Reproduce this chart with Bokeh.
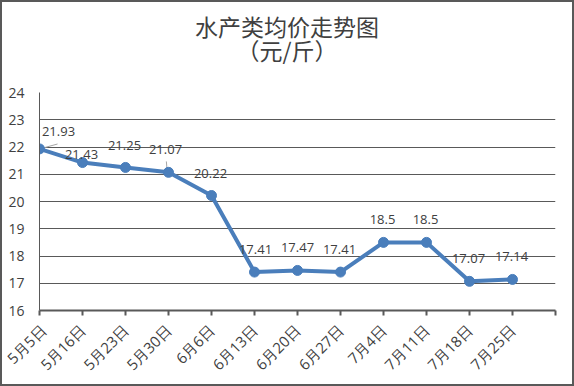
import math
from bokeh.plotting import figure
from bokeh.models import ColumnDataSource, LabelSet, Range1d, FixedTicker, Div
from bokeh.layouts import column
from bokeh.core.properties import value
from bokeh.embed import file_html
from bokeh.resources import INLINE

# ---- data ----
dates = ["5月5日", "5月16日", "5月23日", "5月30日", "6月6日", "6月13日",
         "6月20日", "6月27日", "7月4日", "7月11日", "7月18日", "7月25日"]
prices = [21.93, 21.43, 21.25, 21.07, 20.22, 17.41,
          17.47, 17.41, 18.5, 18.5, 17.07, 17.14]
y_ticks = [16, 17, 18, 19, 20, 21, 22, 23, 24]
title_line1 = "水产类均价走势图"
title_line2 = "（元/斤）"

# label placement (screen px offsets), style only
lab_dx = [19, -1, -1, -3, -1, 1, 0, -1, -1, -1, -1, -1]
lab_dy = [13, 4, 17, 18, 18, 18, 18, 18, 18, 18, 18, 18]

W, H = 570, 382
TITLE_H = 80
BL, BR, BT, BB = 37, 17, 10, 73
GRAY = "#595959"
TXT = "#404040"
BLUE = "#4a7ebb"

xs = list(range(len(dates)))
src = ColumnDataSource(dict(x=xs, y=prices,
                            lbl=[("%g" % v) for v in prices],
                            dx=lab_dx, dy=lab_dy))

line_css = ("height:24px;line-height:24px;margin:0;padding:0;white-space:nowrap;"
            "text-align:center;")
title_html = (
    '<div style="font-family:\'Noto Sans CJK SC\',sans-serif;font-size:23px;'
    'color:%s;padding-top:12px;margin:0;width:%dpx;">' % (TXT, W)
    + '<div style="%s">%s</div>' % (line_css, title_line1)
    + '<div style="%s">%s</div>' % (line_css, title_line2)
    + '</div>')

title = Div(text=title_html, width=W, height=TITLE_H,
            styles={"background-color": "white", "margin": "0", "padding": "0",
                    "overflow": "hidden"})

p = figure(width=W, height=H - TITLE_H, output_backend="svg", toolbar_location=None,
           x_range=Range1d(0, len(dates)), y_range=Range1d(y_ticks[0], y_ticks[-1]),
           min_border_left=BL, min_border_right=BR, min_border_top=BT,
           min_border_bottom=BB, background_fill_color="white",
           border_fill_color="white", outline_line_color=None)
p.title.text = ""

# axes
p.xaxis.ticker = FixedTicker(ticks=list(range(len(dates) + 1)))
p.xaxis.major_label_overrides = {i: d for i, d in enumerate(dates)}
p.xaxis.major_label_overrides[len(dates)] = ""
p.xaxis.major_label_orientation = math.pi / 4
p.xaxis.axis_line_color = GRAY
p.xaxis.axis_line_width = 2
p.xaxis.major_tick_line_color = GRAY
p.xaxis.major_tick_line_width = 2
p.xaxis.major_tick_out = 5
p.xaxis.major_tick_in = 0
p.xaxis.minor_tick_line_color = None
p.xaxis.major_label_text_font = "Open Sans"
p.xaxis.major_label_text_font_size = "15px"
p.xaxis.major_label_text_color = TXT
p.xaxis.major_label_standoff = 12

p.yaxis.ticker = FixedTicker(ticks=y_ticks)
p.yaxis.axis_line_color = GRAY
p.yaxis.axis_line_width = 1
p.yaxis.major_tick_line_color = None
p.yaxis.minor_tick_line_color = None
p.yaxis.major_label_text_font = "Open Sans"
p.yaxis.major_label_text_font_size = "14px"
p.yaxis.major_label_text_color = TXT
p.yaxis.major_label_standoff = 9

p.xgrid.grid_line_color = None
p.ygrid.ticker = FixedTicker(ticks=y_ticks[1:])
p.ygrid.grid_line_color = GRAY
p.ygrid.grid_line_width = 1

# leader lines (from points, in data units)
p.segment(x0=[xs[0] + 0.05], y0=[prices[0] + 0.02],
          x1=[xs[0] + 0.42], y1=[prices[0] + 0.18], line_color="#a6a6a6", line_width=1)
p.segment(x0=[xs[3] - 0.03], y0=[prices[3] + 0.04],
          x1=[xs[3] - 0.05], y1=[prices[3] + 0.4], line_color="#a6a6a6", line_width=1)

p.line("x", "y", source=src, line_color=BLUE, line_width=4)
p.scatter("x", "y", source=src, size=10, fill_color=BLUE, line_color=BLUE)

labels = LabelSet(x="x", y="y", text="lbl", source=src, x_offset="dx", y_offset="dy",
                  text_align="center", text_baseline="alphabetic",
                  text_font=value("Open Sans"), text_font_size="13px", text_color=TXT)
p.add_layout(labels)

layout = column(title, p, spacing=0,
                styles={"border": "2px solid " + GRAY, "background-color": "white"})

open("out.html", "w").write(file_html(layout, INLINE))
